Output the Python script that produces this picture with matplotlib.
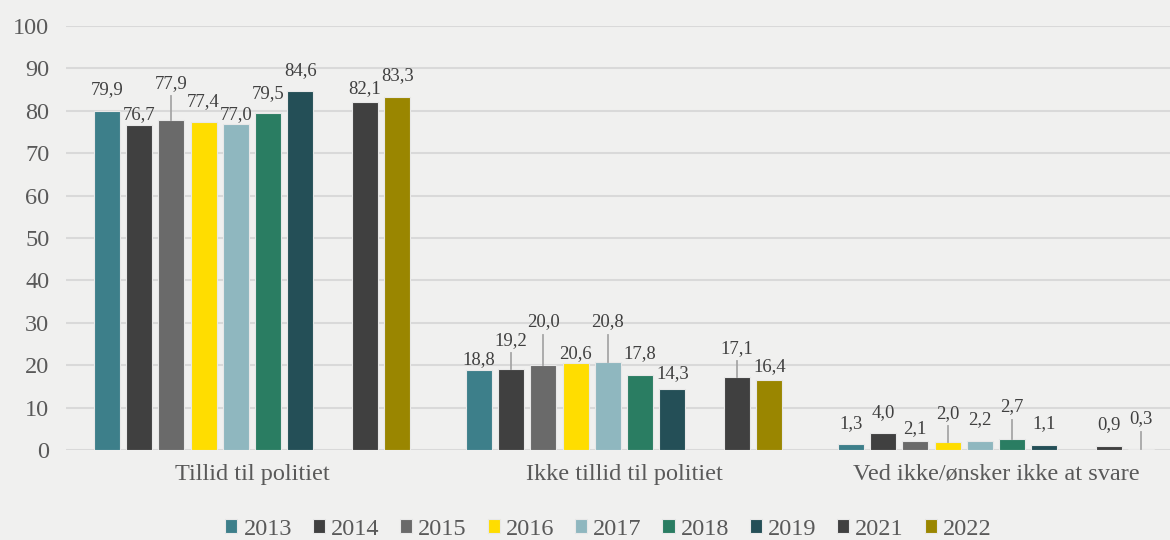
import numpy as np
import matplotlib.pyplot as plt

plt.rcParams["font.family"] = ["Liberation Serif", "DejaVu Serif"]

categories = ["Tillid til politiet", "Ikke tillid til politiet", "Ved ikke/ønsker ikke at svare"]
years = ["2013", "2014", "2015", "2016", "2017", "2018", "2019", "2021", "2022"]
values = [
    [79.9, 18.8, 1.3],
    [76.7, 19.2, 4.0],
    [77.9, 20.0, 2.1],
    [77.4, 20.6, 2.0],
    [77.0, 20.8, 2.2],
    [79.5, 17.8, 2.7],
    [84.6, 14.3, 1.1],
    [82.1, 17.1, 0.9],
    [83.3, 16.4, 0.3],
]
# slot within each group (2020 is left empty)
slots = [0, 1, 2, 3, 4, 5, 6, 8, 9]
colors = ["#3d7f8a", "#404040", "#6a6a6a", "#ffdd00", "#8fb7bf",
          "#2a7d62", "#244f57", "#404040", "#9a8600"]
# how far each value label sits above its bar (data units)
label_lift = [
    [5.0, 2.6, 5.0],
    [2.5, 6.7, 4.9],
    [8.6, 10.2, 2.9],
    [4.8, 2.2, 6.7],
    [2.0, 9.4, 4.9],
    [4.6, 5.0, 7.5],
    [5.0, 3.8, 5.2],
    [3.2, 6.9, 5.0],
    [4.9, 3.3, 7.0],
]

bg = "#f0f0ef"
fig = plt.figure(figsize=(11.7, 5.4), dpi=100, facecolor=bg)
ax = fig.add_axes([66 / 1170, 90 / 540, 1116 / 1170, 424 / 540], facecolor=bg)

pitch = 0.0868
width = 0.07
x = np.arange(len(categories))
for i, yr in enumerate(years):
    pos = x + (slots[i] - 4.5) * pitch
    ax.bar(pos, values[i], width=width, color=colors[i], edgecolor="#e8e8e8",
           linewidth=0.8, label=yr, zorder=3)
    for j, v in enumerate(values[i]):
        ly = v + label_lift[i][j]
        if label_lift[i][j] > 6:
            ax.plot([pos[j], pos[j]], [v, ly - 3.1], color="#a6a6a6", lw=1.3, zorder=4)
        ax.text(pos[j], ly, f"{v:.1f}".replace(".", ","), ha="center", va="center",
                fontsize=13.5, color="#404040", zorder=5)

ax.set_xlim(-0.5, 2.5)
ax.set_ylim(0, 100)
ax.set_yticks(range(0, 101, 10))
ax.set_xticks(x)
ax.set_xticklabels(categories)
ax.grid(axis="y", color="#d9d9d9", lw=1.5, zorder=0)
ax.axhline(0, color="#d9d9d9", lw=2, zorder=2)
for s in ax.spines.values():
    s.set_visible(False)
ax.tick_params(axis="both", length=0, labelsize=17.5, colors="#595959")
ax.tick_params(axis="x", pad=10)
ax.tick_params(axis="y", pad=12)

leg = fig.legend(loc="center", bbox_to_anchor=(0.52, 0.02), ncol=9, frameon=False,
                 handlelength=0.5, handleheight=0.5, handletextpad=0.25, columnspacing=0.85,
                 prop={"size": 17.5})
for t in leg.get_texts():
    t.set_color("#595959")

fig.savefig("out.png", dpi=100, facecolor=bg)
